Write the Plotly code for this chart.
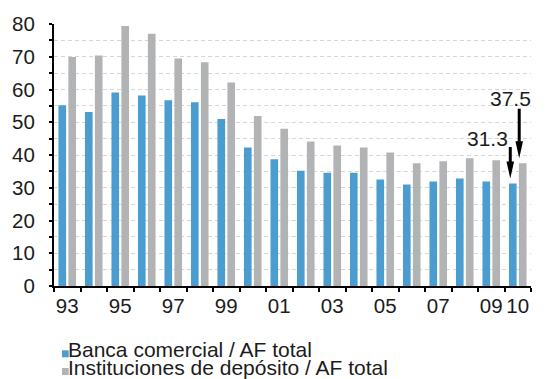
import plotly.graph_objects as go

# Share of total financial assets (%), 1993-2010
years = ["93", "94", "95", "96", "97", "98", "99", "00", "01",
         "02", "03", "04", "05", "06", "07", "08", "09", "10"]
banca_comercial = [55.2, 53.1, 59.1, 58.2, 56.7, 56.1, 51.0, 42.3, 38.7,
                   35.2, 34.6, 34.6, 32.5, 31.0, 31.9, 32.8, 31.9, 31.3]
inst_deposito = [69.9, 70.4, 79.4, 77.0, 69.5, 68.3, 62.1, 51.9, 48.0,
                 44.1, 42.9, 42.3, 40.8, 37.5, 38.1, 39.0, 38.4, 37.5]
shown_labels = ["93", "95", "97", "99", "01", "03", "05", "07", "09", "10"]

name_bc = "Banca comercial / AF total"
name_id = "Instituciones de depósito / AF total"

BLUE = "#4b9dcf"
GRAY = "#b2b3b5"
INK = "#1c1c1c"
FONT = "Liberation Sans, Arial, sans-serif"
FS_TICK = 20.5
FS_TEXT = 21

BARGAP = 0.25
GROUPGAP = 0.23
slot = (1 - BARGAP) / 2  # width of each series slot in category units

idx = list(range(len(years)))

fig = go.Figure()
fig.add_trace(go.Bar(x=idx, y=banca_comercial, name=name_bc,
                     marker=dict(color=BLUE, line=dict(width=0)), showlegend=False))
fig.add_trace(go.Bar(x=idx, y=inst_deposito, name=name_id,
                     marker=dict(color=GRAY, line=dict(width=0)), showlegend=False))

GRID = "#d6d6d6"

fig.update_layout(
    width=548, height=379,
    margin=dict(l=52, r=17, t=19, b=93),
    paper_bgcolor="white", plot_bgcolor="white",
    barmode="group", bargap=BARGAP, bargroupgap=GROUPGAP,
    font=dict(family=FONT, size=FS_TICK, color=INK),
    xaxis=dict(
        range=[-0.5, len(years) - 0.5],
        tickmode="array",
        tickvals=[years.index(l) for l in shown_labels],
        ticktext=shown_labels,
        ticks="", showgrid=False, zeroline=False,
        showline=True, linecolor="black", linewidth=2,
        ticklabelstandoff=0,
        tickfont=dict(family=FONT, size=FS_TICK, color=INK),
        minor=dict(tickmode="linear", tick0=-0.5, dtick=1, ticks="outside",
                   ticklen=4, tickwidth=2, tickcolor="black", showgrid=False),
    ),
    yaxis=dict(
        range=[0, 80], dtick=10, tick0=0,
        showline=True, linecolor="black", linewidth=2,
        ticks="outside", ticklen=3, tickwidth=2, tickcolor="black",
        showgrid=True, gridcolor=GRID, gridwidth=1, griddash="4px,3px",
        zeroline=False,
        ticklabelstandoff=10,
        tickfont=dict(family=FONT, size=FS_TICK, color=INK),
        minor=dict(dtick=5, ticks="outside", ticklen=3, tickwidth=2, tickcolor="black",
                   showgrid=True, gridcolor=GRID, gridwidth=1, griddash="4px,3px"),
    ),
)

# Callouts on the last year's bars
last = len(years) - 1
callouts = [
    # (x in data units, value, arrow x shift px, tail height px, text dx, text dy)
    (last - slot / 2, banca_comercial[last], -2.5, 36.5, -25, 45),
    (last + slot / 2, inst_deposito[last], -3.5, 54.5, -12, 65),
]
shapes = []
annotations = []
for xc, val, sx, tail, tdx, tdy in callouts:
    tip, head = 5, 22
    shapes.append(dict(
        type="path", xref="x", yref="y", xsizemode="pixel", ysizemode="pixel",
        xanchor=xc, yanchor=val,
        path=f"M {sx - 3.8},{head} L {sx + 3.8},{head} L {sx},{tip} Z",
        fillcolor="black", line=dict(width=0), layer="above"))
    shapes.append(dict(
        type="line", xref="x", yref="y", xsizemode="pixel", ysizemode="pixel",
        xanchor=xc, yanchor=val, x0=sx, x1=sx, y0=head - 2, y1=tail,
        line=dict(color="black", width=3), layer="above"))
    annotations.append(dict(
        x=xc, y=val, xref="x", yref="y", text=f"{val}", showarrow=False,
        xanchor="center", yanchor="middle", xshift=tdx, yshift=tdy,
        font=dict(family=FONT, size=FS_TEXT, color=INK)))

# Legend drawn below the axis: small square swatch followed by the label
# (baseline given in px relative to the bottom of the plot area, up positive)
legend_rows = [(name_bc, BLUE, -71.3), (name_id, GRAY, -89.0)]
for text, color, baseline in legend_rows:
    shapes.append(dict(
        type="rect", xref="paper", yref="paper", xsizemode="pixel", ysizemode="pixel",
        xanchor=0, yanchor=0, x0=8, x1=14.7, y0=baseline, y1=baseline + 7,
        fillcolor=color, line=dict(width=0)))
    annotations.append(dict(
        x=0, y=0, xref="paper", yref="paper", text=text, showarrow=False,
        xanchor="left", yanchor="bottom", xshift=12.5, yshift=baseline - 4.5,
        borderpad=0,
        font=dict(family=FONT, size=FS_TEXT, color=INK)))

fig.update_layout(shapes=shapes, annotations=annotations)

fig.write_html("out.html")
